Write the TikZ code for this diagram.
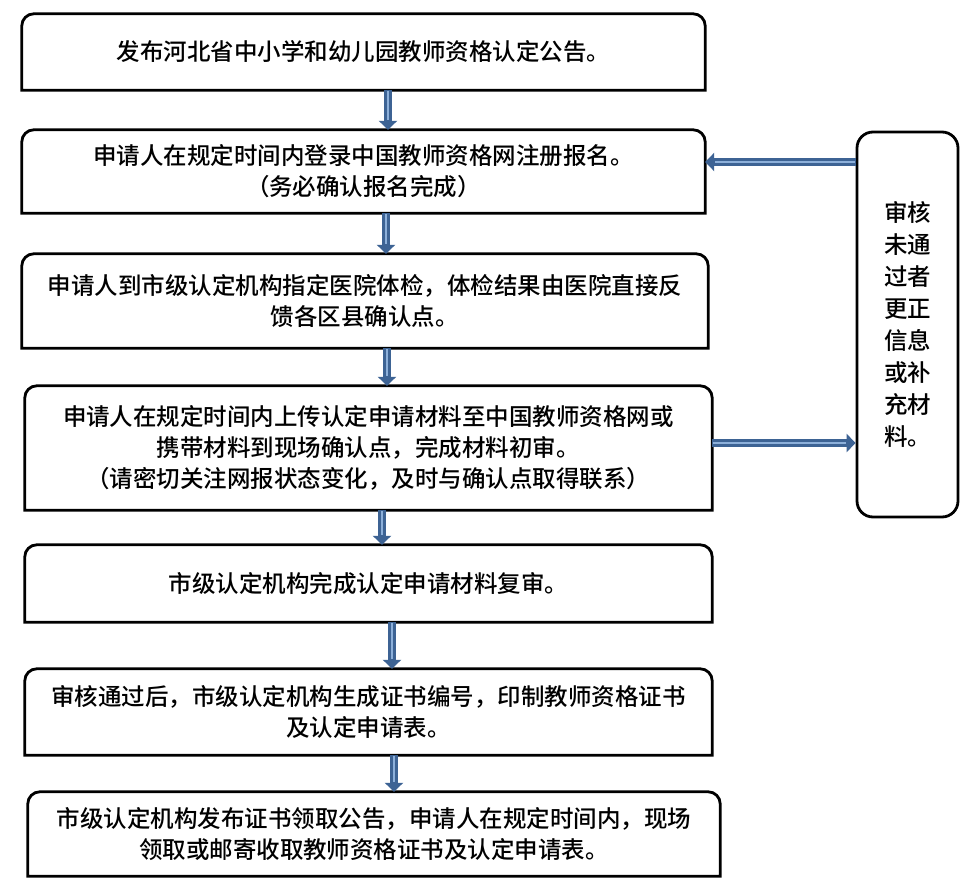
\documentclass[tikz,border=0pt]{standalone}
\usepackage{fontspec}
\setmainfont{Noto Sans CJK SC}[BoldFont={* Medium}]
\usetikzlibrary{arrows.meta}
\definecolor{flowdark}{HTML}{3D6394}
\definecolor{flowlight}{HTML}{8DB0DA}
\tikzset{
	stepbox/.style={minimum width=#1, inner sep=0pt, align=center, font=\fontsize{23.5}{31}\selectfont\bfseries},
	sidebox/.style={draw, line width=2.8pt, rounded corners=16pt, inner sep=0pt, align=center, font=\fontsize{23.5}{32}\selectfont\bfseries},
	flow/.style={draw=flowdark, line width=8pt, -{Triangle[length=9pt,width=18pt]},
		postaction={draw=flowlight, line width=2pt, -, shorten >=10pt, shorten <=1pt}}
}
\newcommand{\topround}[1]{\draw[line width=2.8pt] (#1.south west) {[rounded corners=12pt] -- (#1.north west) -- (#1.north east)} -- (#1.south east) -- cycle;}
\begin{document}
\begin{tikzpicture}[x=1pt,y=-1pt]
			\useasboundingbox (0,0) rectangle (970,891);
			\fill[white] (0,0) rectangle (970,891);
			\node[stepbox=683pt, minimum height=76pt] (b1) at (363.5,52) {发布河北省中小学和幼儿园教师资格认定公告。};
			\node[stepbox=683pt, minimum height=83pt] (b2) at (363.5,171.5) {申请人在规定时间内登录中国教师资格网注册报名。\\（务必确认报名完成）};
			\node[stepbox=686pt, minimum height=94pt] (b3) at (365,301) {申请人到市级认定机构指定医院体检，体检结果由医院直接反\\馈各区县确认点。};
			\node[stepbox=687pt, minimum height=124pt] (b4) at (368.5,448) {申请人在规定时间内上传认定申请材料至中国教师资格网或\\携带材料到现场确认点，完成材料初审。\\（请密切关注网报状态变化，及时与确认点取得联系）};
			\node[stepbox=687pt, minimum height=77pt] (b5) at (368.5,583.5) {市级认定机构完成认定申请材料复审。};
			\node[stepbox=687pt, minimum height=86pt] (b6) at (368.5,712) {审核通过后，市级认定机构生成证书编号，印制教师资格证书\\及认定申请表。};
			\node[stepbox=692pt, minimum height=84pt] (b7) at (374,834) {市级认定机构发布证书领取公告，申请人在规定时间内，现场\\领取或邮寄收取教师资格证书及认定申请表。};
			\node[sidebox, minimum width=101pt, minimum height=385pt] (side) at (907.5,324.5) {审核\\未通\\过者\\更正\\信息\\或补\\充材\\料。};
			% box outlines, only top corners rounded
			\foreach \b in {b1,b2,b3,b4,b5,b6,b7} {\topround{\b}}
			% arrows down
			\draw[flow] ([xshift=24.5pt]b1.south) -- ([xshift=24.5pt]b1.south |- b2.north);
			\draw[flow] ([xshift=22.5pt]b2.south) -- ([xshift=22.5pt]b2.south |- b3.north);
			\draw[flow] ([xshift=22pt]b3.south) -- ([xshift=22pt]b3.south |- b4.north);
			\draw[flow] ([xshift=13.5pt]b4.south) -- ([xshift=13.5pt]b4.south |- b5.north);
			\draw[flow] ([xshift=23.5pt]b5.south) -- ([xshift=23.5pt]b5.south |- b6.north);
			\draw[flow] ([xshift=25.5pt]b6.south) -- ([xshift=25.5pt]b6.south |- b7.north);
			% arrows to and from the side box
			\coordinate (r2) at ([yshift=9.5pt]b2.east);
			\coordinate (r4) at ([yshift=5pt]b4.east);
			\draw[flow] (side.west |- r2) -- (r2);
			\draw[flow] (r4) -- (side.west |- r4);
		\end{tikzpicture}
\end{document}
